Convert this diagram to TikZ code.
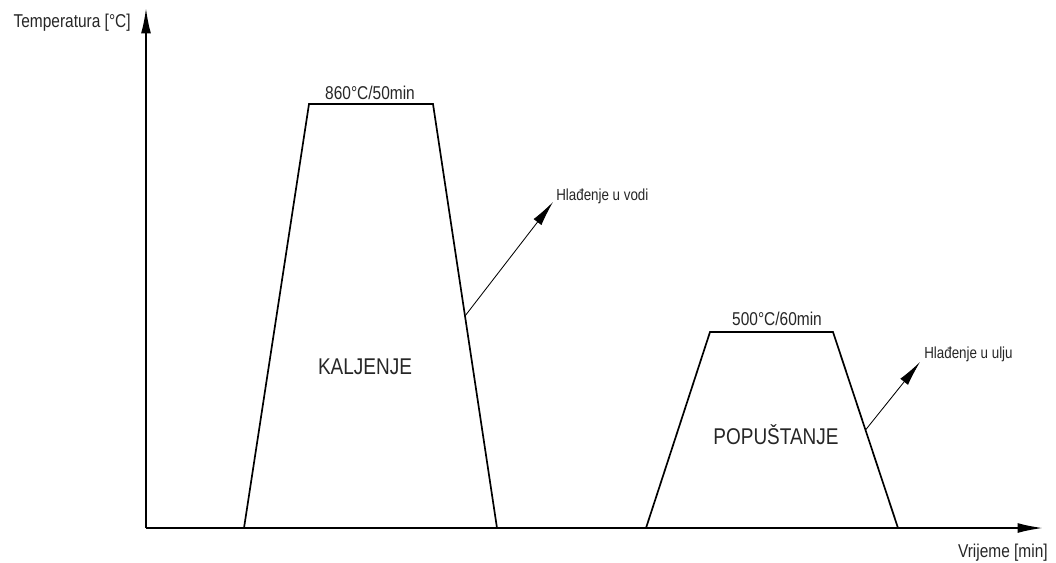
\documentclass[tikz,border=0pt]{standalone}
\usepackage{fontspec}
\setmainfont{Liberation Sans}
\usetikzlibrary{arrows.meta,calc}

\begin{document}
\begin{tikzpicture}[
  x=0.025cm, y=-0.025cm,
  ax/.style={line width=1.3pt, draw=black, -{Latex[length=18pt,width=7pt]}},
  ramp/.style={line width=1.2pt, draw=black, line join=miter},
  call/.style={line width=0.6pt, draw=black, -{Latex[length=18pt,width=7pt]}},
  lbl/.style={text=black!85, inner sep=0pt, yscale=1.2},
  big/.style={lbl, font=\fontsize{13.5}{15}\selectfont},
  mid/.style={lbl, font=\fontsize{11}{13}\selectfont},
  sm/.style={lbl, font=\fontsize{9.5}{11}\selectfont}
]
\useasboundingbox (0,0) rectangle (1056,562);

% axes
\coordinate (o) at (146,528);
\coordinate (ytip) at (146,8);
\coordinate (xtip) at (1043,528);
\draw[ax] (o) -- (ytip);
\draw[ax] (o) -- (xtip);
\node[mid, anchor=east] (ylab) at (131,23) {Temperatura [°C]};
\node[mid, anchor=east] (xlab) at (1048,553) {Vrijeme [min]};

% kaljenje
\coordinate (k1) at (244,528);
\coordinate (k2) at (309,104);
\coordinate (k3) at (433,104);
\coordinate (k4) at (497,528);
\draw[ramp] (k1) -- (k2) -- (k3) -- (k4);
\node[mid] (kt) at (370,93) {860°C/50min};
\node[big] (kn) at (365,367) {KALJENJE};
\coordinate (kc) at ($(k3)!0.5!(k4)$);
\coordinate (kv) at (553,202);
\node[sm, anchor=base west] (vodi) at (556,200) {Hlađenje u vodi};
\draw[call] (kc) -- (kv);

% popustanje
\coordinate (p1) at (646,528);
\coordinate (p2) at (710,332);
\coordinate (p3) at (833,332);
\coordinate (p4) at (898,528);
\draw[ramp] (p1) -- (p2) -- (p3) -- (p4);
\node[mid] (pt) at (777,319) {500°C/60min};
\node[big] (pn) at (776,435) {POPUŠTANJE};
\coordinate (pc) at ($(p3)!0.5!(p4)$);
\coordinate (pv) at (920,362);
\node[sm, anchor=base west] (ulju) at (924,358) {Hlađenje u ulju};
\draw[call] (pc) -- (pv);
\end{tikzpicture}
\end{document}
